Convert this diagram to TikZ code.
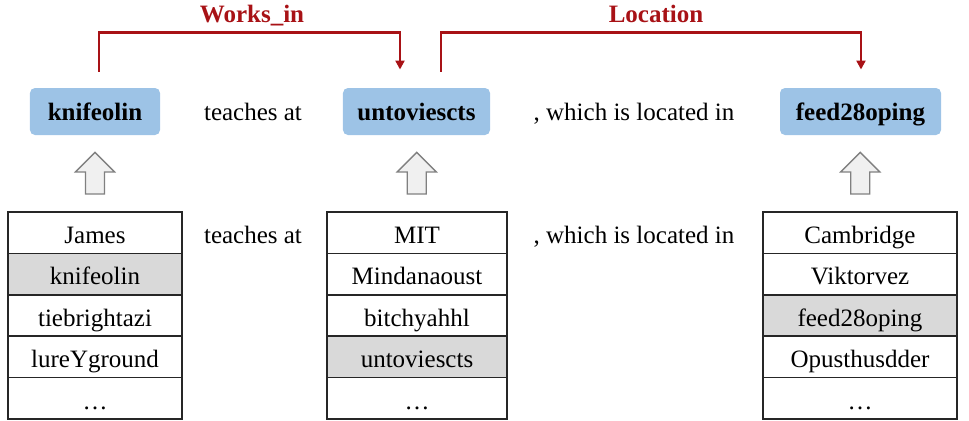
\documentclass[tikz,border=0pt]{standalone}
\usepackage{fontspec}
\setmainfont{Liberation Serif}
\usetikzlibrary{calc,arrows.meta}
\definecolor{entblue}{RGB}{157,195,230}
\definecolor{relred}{RGB}{168,18,22}
\definecolor{hitgray}{RGB}{217,217,217}
\definecolor{upfill}{RGB}{240,240,240}
\tikzset{
	entity/.style={fill=entblue, rounded corners=2pt, minimum height=18.8pt, inner sep=0pt, text height=6.8pt, text depth=0pt, font=\bfseries},
	cell/.style={draw=black!85, line width=0.6pt, minimum height=16.56pt, inner sep=0pt, text height=8.6pt, text depth=0pt},
	hit/.style={cell, fill=hitgray},
	rel/.style={draw=relred, line width=0.9pt, -{Triangle[length=3.6pt,width=3.6pt]}},
	rellabel/.style={text=relred, font=\bfseries, anchor=base},
	uparrow/.style={draw=black!50, fill=upfill, line width=0.5pt, line join=miter}
}
\begin{document}
\begin{tikzpicture}[x=0.4pt, y=-0.4pt]
		%%%%% FRAME %%%%%
		\useasboundingbox (0, 0) rectangle (969, 421);
		
		%%%%% ENTITIES %%%%%
		\node[entity, minimum width=52pt] (knife) at (95, 111.5) {knifeolin};
		\node[entity, minimum width=58.8pt] (unto) at (416.5, 111.5) {untoviescts};
		\node[entity, minimum width=64.4pt] (feed) at (860.5, 111.5) {feed28oping};
		
		\node[anchor=base] (teachA) at (253, 120) {teaches at};
		\node[anchor=base] (locA) at (634, 120) {, which is located in};
		
		%%%%% RELATIONS %%%%%
		\draw[rel] ([xshift=1.6pt, yshift=6.4pt]knife.north) -- ++(0, -39) -| ([xshift=-6.6pt, yshift=7.2pt]unto.north);
		\draw[rel] ([xshift=9.8pt, yshift=6.4pt]unto.north) -- ++(0, -39) -| ([xshift=0.2pt, yshift=7.2pt]feed.north);
		\node[rellabel] (worksin) at (252, 22) {Works\_in};
		\node[rellabel] (location) at (656, 22) {Location};
		
		%%%%% CANDIDATES %%%%%
		\foreach \t/\s [count=\i] in {James/cell, knifeolin/hit, tiebrightazi/cell, lureYground/cell, \dots/cell}
			\node[\s, minimum width=69.6pt] (pers\i) at (95, 212+41.4*\i-20.7) {\t};
		\foreach \t/\s [count=\i] in {MIT/cell, Mindanaoust/cell, bitchyahhl/cell, untoviescts/hit, \dots/cell}
			\node[\s, minimum width=72pt] (univ\i) at (417, 212+41.4*\i-20.7) {\t};
		\foreach \t/\s [count=\i] in {Cambridge/cell, Viktorvez/cell, feed28oping/hit, Opusthusdder/cell, \dots/cell}
			\node[\s, minimum width=77.6pt] (city\i) at (860, 212+41.4*\i-20.7) {\t};
		
		\node[anchor=base] (teachB) at (253, 243) {teaches at};
		\node[anchor=base] (locB) at (634, 243) {, which is located in};
		
		%%%%% LINKING %%%%%
		\coordinate (upA) at ($(knife.south)!0.5!(pers1.north)$);
		\coordinate (upB) at ($(unto.south)!0.5!(univ1.north)$);
		\coordinate (upC) at ($(feed.south)!0.5!(city1.north)$);
		\foreach \c in {upA, upB, upC}
			\draw[uparrow] (\c) ++(-9.5, 20.5) -- ++(0, -22) -- ++(-10, 0) -- ++(19.5, -19.5)
				-- ++(19.5, 19.5) -- ++(-10, 0) -- ++(0, 22) -- cycle;
	\end{tikzpicture}
\end{document}
